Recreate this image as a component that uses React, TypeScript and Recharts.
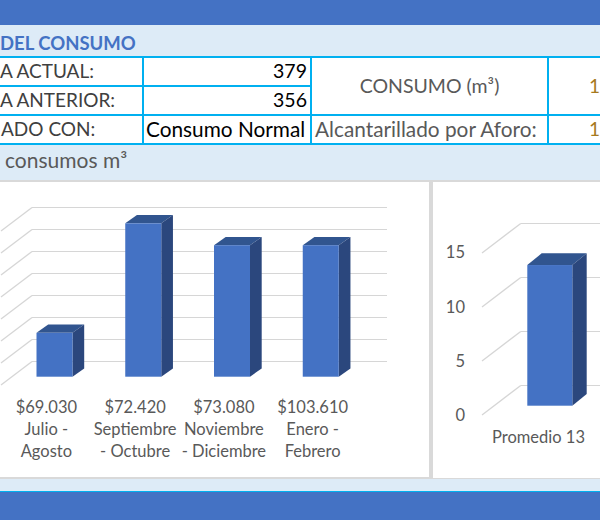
import React from 'react';
import { BarChart, Bar, XAxis, YAxis, CartesianGrid } from 'recharts';

// datos del gráfico
const periodos: string[][] = [
  ['Julio -', 'Agosto'],
  ['Septiembre', '- Octubre'],
  ['Noviembre', '- Diciembre'],
  ['Enero -', 'Febrero'],
];
const costos = ['$69.030', '$72.420', '$73.080', '$103.610'];
const consumos = [4, 14, 12, 12];
const ticksConsumo = [0, 2, 4, 6, 8, 10, 12, 14];

const promedioLabels = ['Promedio 13'];
const promedios = [13];
const ticksPromedio = [0, 5, 10, 15];

const FONT = "Lato, 'Liberation Sans', sans-serif";
const BLUE = '#4472C4';
const LIGHT = '#DDEBF7';
const CYAN = '#00B0F0';
const GRID = '#D6D6D6';
const TEXT = '#595959';

const historial = periodos.map((p, i) => ({ periodo: p.join(' '), costo: costos[i], consumo: consumos[i] }));
const promedio = promedioLabels.map((l, i) => ({ label: l, valor: promedios[i] }));

// barra con caras lateral y superior (imitando columna 3D de Excel)
const bar3d = (shift: number, dx: number, dy: number) => (props: any) => {
  const { x, y, width, height } = props;
  const fx = x + shift;
  return (
    <g>
      <polygon points={`${fx},${y} ${fx + dx},${y - dy} ${fx + width + dx},${y - dy} ${fx + width},${y}`} fill="#31558F" />
      <polygon
        points={`${fx + width},${y} ${fx + width + dx},${y - dy} ${fx + width + dx},${y + height - dy} ${fx + width},${y + height}`}
        fill="#2B477D"
      />
      <rect x={fx} y={y} width={width} height={height} fill={BLUE} />
    </g>
  );
};

// pared del fondo + pared lateral (líneas ajustadas al píxel para que se vean nítidas)
const backWall = (backX: number, backY: number, diagX: number, diagY: number) => (props: any) => {
  const { x1, x2, y1, index } = props;
  const bx = x1 + backX;
  const by = Math.round(y1 - backY) + 0.5;
  return (
    <g key={`wall-${index}`}>
      <line x1={bx} y1={by} x2={x2 + backX} y2={by} stroke={GRID} strokeWidth={1.2} />
      <line x1={bx} y1={by} x2={bx - diagX} y2={by + diagY} stroke={GRID} strokeWidth={1.3} />
    </g>
  );
};

const PeriodoTick = (props: any) => {
  const { x, y, index } = props;
  const lines = [costos[index], ...periodos[index]];
  return (
    <text x={x} y={y} textAnchor="middle" fill={TEXT} fontSize={16.5} fontFamily={FONT}>
      {lines.map((l, i) => (
        <tspan key={i} x={x} dy={i === 0 ? 36.3 : 21.8}>
          {l}
        </tspan>
      ))}
    </text>
  );
};

const PromedioTick = (props: any) => {
  const { x, y, payload } = props;
  return (
    <text x={x} y={y + 37.6} textAnchor="middle" fill={TEXT} fontSize={16.5} fontFamily={FONT}>
      {payload.value}
    </text>
  );
};

const EjeTick = (props: any) => {
  const { x, y, payload } = props;
  return (
    <text x={x - 17} y={y + 15} textAnchor="end" fill={TEXT} fontSize={16.5} fontFamily={FONT}>
      {payload.value}
    </text>
  );
};

const abs = (left: number, top: number, width: number, height: number, extra: React.CSSProperties = {}): React.CSSProperties => ({
  position: 'absolute',
  left,
  top,
  width,
  height,
  ...extra,
});

const txt = (left: number, cy: number, content: React.ReactNode, extra: React.CSSProperties = {}) => (
  <div
    style={{
      position: 'absolute',
      left,
      top: cy - 12,
      height: 24,
      lineHeight: '24px',
      fontSize: 19,
      whiteSpace: 'nowrap',
      ...extra,
    }}
  >
    {content}
  </div>
);

export default function App() {
  return (
    <div style={{ position: 'absolute', left: 0, top: 0, width: 600, height: 520, overflow: 'hidden', fontFamily: FONT, background: '#fff' }}>
      {/* franja superior */}
      <div style={abs(0, 0, 600, 25, { background: BLUE })} />
      <div style={abs(0, 25, 600, 31, { background: LIGHT })} />
      {txt(0, 42.5, 'DEL CONSUMO', { color: BLUE, fontWeight: 700, fontSize: 18.5 })}

      {/* tabla */}
      <div style={abs(0, 56, 600, 87, { background: '#fff' })} />
      <div style={abs(0, 56, 600, 1.5, { background: CYAN })} />
      <div style={abs(0, 85, 311, 1.5, { background: CYAN })} />
      <div style={abs(0, 114, 600, 1.5, { background: CYAN })} />
      <div style={abs(0, 143, 600, 1.5, { background: CYAN })} />
      <div style={abs(142, 56, 1.5, 88, { background: CYAN })} />
      <div style={abs(310, 56, 1.5, 88, { background: CYAN })} />
      <div style={abs(547, 56, 1.5, 88, { background: CYAN })} />

      {txt(0, 71, 'A ACTUAL:', { color: '#404040' })}
      {txt(0, 100, 'A ANTERIOR:', { color: '#404040' })}
      {txt(1, 129, 'ADO CON:', { color: '#404040' })}
      {txt(150, 71, '379', { color: '#000', width: 157, textAlign: 'right', fontSize: 19.5 })}
      {txt(150, 100, '356', { color: '#000', width: 157, textAlign: 'right', fontSize: 19.5 })}
      {txt(146, 129, 'Consumo Normal', { color: '#000', fontSize: 20.8 })}
      {txt(311, 85.5, 'CONSUMO (m³)', { color: TEXT, width: 237, textAlign: 'center', fontSize: 19.5 })}
      {txt(315, 129, 'Alcantarillado por Aforo:', { color: TEXT, fontSize: 20.8 })}
      {txt(589, 85.5, '1', { color: '#A6791E' })}
      {txt(589, 129, '1', { color: '#A6791E' })}

      {/* subtítulo */}
      <div style={abs(0, 144.5, 600, 36, { background: LIGHT })} />
      {txt(5, 160, 'consumos m³', { color: TEXT, fontSize: 21 })}

      {/* zona de gráficos */}
      <div style={abs(0, 180, 600, 299, { background: '#D9D9D9' })} />

      <div style={abs(0, 182, 429, 295, { background: '#fff', overflow: 'hidden' })}>
        <BarChart width={429} height={295} data={historial} margin={{ top: 41.3, right: 72, bottom: 70.3, left: 2 }}>
          <CartesianGrid vertical={false} horizontal={backWall(30, 15.8, 31, 23.6)} />
          <XAxis
            dataKey="periodo"
            axisLine={false}
            tickLine={false}
            tickSize={0}
            tickMargin={0}
            height={30}
            interval={0}
            tick={<PeriodoTick />}
          />
          <YAxis hide domain={[0, 14]} ticks={ticksConsumo} interval={0} minTickGap={0} />
          <Bar dataKey="consumo" barSize={36} isAnimationActive={false} shape={bar3d(8.5, 11.7, 8.3)} />
        </BarChart>
      </div>

      <div style={abs(433, 182, 167, 296, { background: '#fff', overflow: 'hidden' })}>
        <BarChart width={167} height={296} data={promedio} margin={{ top: 61.4, right: 5, bottom: 42.3, left: 0 }}>
          <CartesianGrid vertical={false} horizontal={backWall(38.7, 20.5, 38.7, 29.5)} />
          <XAxis
            dataKey="label"
            axisLine={false}
            tickLine={false}
            tickSize={0}
            tickMargin={0}
            height={30}
            tick={<PromedioTick />}
          />
          <YAxis
            width={49}
            domain={[0, 15]}
            ticks={ticksPromedio}
            interval={0}
            axisLine={false}
            tickLine={false}
            tickSize={0}
            tickMargin={0}
            tick={<EjeTick />}
          />
          <Bar dataKey="valor" barSize={45} isAnimationActive={false} shape={bar3d(11.3, 14.4, 11.7)} />
        </BarChart>
      </div>

      {/* franja inferior */}
      <div style={abs(0, 479, 600, 12, { background: LIGHT })} />
      <div style={abs(0, 491, 600, 1.5, { background: CYAN })} />
      <div style={abs(0, 492, 600, 28, { background: BLUE })} />
    </div>
  );
}
